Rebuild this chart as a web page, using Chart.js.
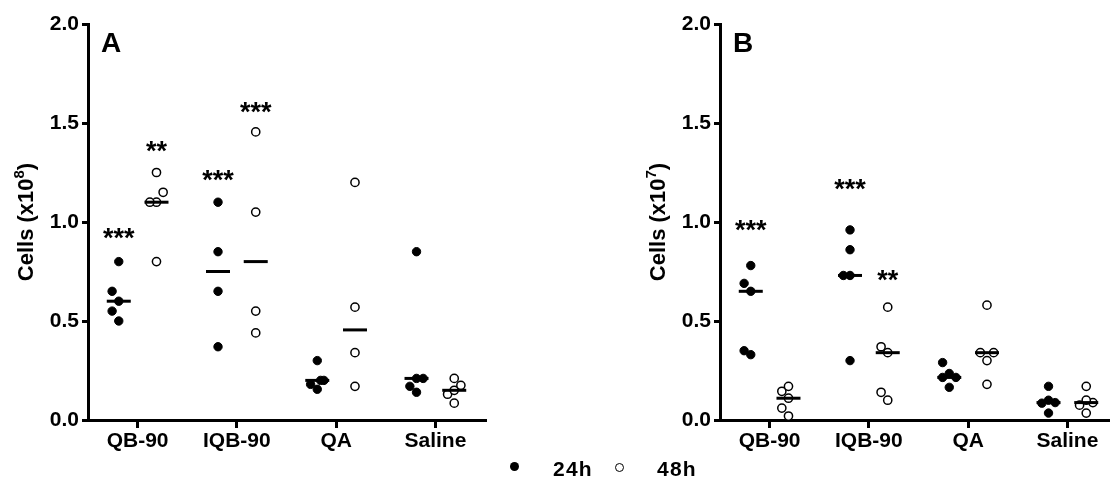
<!DOCTYPE html>
<html><head><meta charset="utf-8">
<script src="https://cdn.jsdelivr.net/npm/chart.js@4.4.1/dist/chart.umd.min.js"></script>
<style>
html,body{margin:0;padding:0;background:#fff;overflow:hidden;width:1110px;height:479px;position:relative;font-family:'Liberation Sans',Arial,sans-serif;}
.panel{position:absolute;top:0;height:479px;width:500px;}
.lg{position:absolute;font-weight:bold;font-size:21px;line-height:20px;letter-spacing:1.2px;color:#000;}
.sym{position:absolute;width:9px;height:9px;border-radius:50%;box-sizing:border-box;}
</style></head><body>
<div class="panel" style="left:0"><canvas id="cA"></canvas></div>
<div class="panel" style="left:632px"><canvas id="cB"></canvas></div>
<span class="sym" style="left:510px;top:462px;background:#000;"></span>
<span class="lg" style="left:553px;top:459px;">24h</span>
<span class="sym" style="left:615px;top:463px;border:1.6px solid #000;background:#fff;"></span>
<span class="lg" style="left:657px;top:459px;">48h</span>
<script>
const categories = ['QB-90', 'IQB-90', 'QA', 'Saline'];
const yTicks = [0, 0.5, 1.0, 1.5, 2.0];

const panelA_24h = [[0.80, 0.65, 0.60, 0.55, 0.50], [1.10, 0.85, 0.65, 0.37], [0.30, 0.20, 0.20, 0.18, 0.155], [0.85, 0.21, 0.21, 0.17, 0.14]];
const panelA_48h = [[1.25, 1.15, 1.10, 1.10, 0.80], [1.455, 1.05, 0.55, 0.44], [1.20, 0.57, 0.34, 0.17], [0.21, 0.175, 0.15, 0.13, 0.085]];
const panelB_24h = [[0.78, 0.69, 0.65, 0.35, 0.33], [0.96, 0.86, 0.73, 0.73, 0.30], [0.29, 0.235, 0.215, 0.215, 0.165], [0.17, 0.10, 0.088, 0.085, 0.035]];
const panelB_48h = [[0.17, 0.145, 0.11, 0.06, 0.02], [0.57, 0.37, 0.34, 0.14, 0.10], [0.58, 0.34, 0.34, 0.30, 0.18], [0.17, 0.10, 0.088, 0.075, 0.035]];

const sigA_24h = ['***', '***', '', ''];
const sigA_24hAt = [0.95, 1.24, null, null];
const sigA_48h = ['**', '***', '', ''];
const sigA_48hAt = [1.39, 1.585, null, null];
const sigB_24h = ['***', '***', '', ''];
const sigB_24hAt = [0.99, 1.195, null, null];
const sigB_48h = ['', '**', '', ''];
const sigB_48hAt = [null, 0.735, null, null];

const yTitleA = ['Cells (x10', '8', ')'];
const yTitleB = ['Cells (x10', '7', ')'];
const panelLetters = ['A', 'B'];
const legendLabels = ['24h', '48h'];

const FONT = "'Liberation Sans', Arial, sans-serif";
const OFF = 0.19;

function median(a) {
  const s = [...a].sort((p, q) => p - q);
  const n = s.length;
  return n % 2 ? s[(n - 1) / 2] : (s[n / 2 - 1] + s[n / 2]) / 2;
}
// simple swarm layout: spread points with nearly equal values sideways
function swarm(values, center) {
  const step = 0.067, thr = 0.055;
  const cands = [0, -step, step, step / 2, -step / 2, -2 * step, 2 * step];
  const placed = [];
  [...values].sort((p, q) => p - q).forEach(v => {
    for (const c of cands) {
      if (!placed.some(p => p.o === c && Math.abs(p.y - v) < thr)) { placed.push({ o: c, y: v }); break; }
    }
  });
  return placed.map(p => ({ x: center + p.o, y: p.y }));
}
function pts(groups, off) { return groups.flatMap((g, i) => swarm(g, i + 1 + off)); }
function meds(groups, off) { return groups.map((g, i) => ({ x: i + 1 + off, y: median(g) })); }

const annot = {
  id: 'annot',
  afterDatasetsDraw(chart, args, o) {
    const { ctx, chartArea, scales } = chart;
    ctx.save();
    ctx.fillStyle = '#000';
    // significance marks
    ctx.font = 'bold 27px ' + FONT;
    ctx.textAlign = 'center';
    ctx.textBaseline = 'alphabetic';
    const drawSig = (labels, at, off) => labels.forEach((t, i) => {
      if (!t || at[i] == null) return;
      ctx.fillText(t, scales.x.getPixelForValue(i + 1 + off), scales.y.getPixelForValue(at[i]) + 15);
    });
    drawSig(o.sig24, o.sig24At, -OFF);
    drawSig(o.sig48, o.sig48At, OFF);
    // panel letter
    ctx.font = 'bold 28px ' + FONT;
    ctx.textAlign = 'left';
    ctx.fillText(o.letter, chartArea.left + 13, 52);
    // y title with superscript
    ctx.translate(chartArea.left - 55, (chartArea.top + chartArea.bottom) / 2);
    ctx.rotate(-Math.PI / 2);
    const mf = 'bold 22px ' + FONT, sf = 'bold 15px ' + FONT;
    ctx.font = mf; const w1 = ctx.measureText(o.title[0]).width; const w3 = ctx.measureText(o.title[2]).width;
    ctx.font = sf; const w2 = ctx.measureText(o.title[1]).width;
    let x0 = -(w1 + w2 + w3) / 2;
    ctx.font = mf; ctx.fillText(o.title[0], x0, 0);
    ctx.font = sf; ctx.fillText(o.title[1], x0 + w1, -9);
    ctx.font = mf; ctx.fillText(o.title[2], x0 + w1 + w2, 0);
    ctx.restore();
  }
};

function makeChart(id, d24, d48, opts) {
  const tickFont = { family: FONT, size: 21, weight: 'bold' };
  return new Chart(document.getElementById(id), {
    type: 'scatter',
    data: {
      datasets: [
        { label: legendLabels[0] + ' median', data: meds(d24, -OFF), pointStyle: 'line', pointRadius: 12, pointHoverRadius: 12, borderColor: '#000', borderWidth: 3, order: 0 },
        { label: legendLabels[1] + ' median', data: meds(d48, OFF), pointStyle: 'line', pointRadius: 12, pointHoverRadius: 12, borderColor: '#000', borderWidth: 3, order: 0 },
        { label: legendLabels[0], data: pts(d24, -OFF), pointRadius: 4.2, backgroundColor: '#000', borderColor: '#000', borderWidth: 1, order: 1 },
        { label: legendLabels[1], data: pts(d48, OFF), pointRadius: 4.1, backgroundColor: '#fff', borderColor: '#000', borderWidth: 1.5, order: 1 }
      ]
    },
    options: {
      responsive: true, maintainAspectRatio: false, animation: false, events: [],
      layout: { padding: { top: 24, right: 12, left: 0, bottom: 0 } },
      plugins: { legend: { display: false }, tooltip: { enabled: false }, annot: opts },
      scales: {
        x: {
          type: 'linear', min: 0.5, max: 4.5,
          afterBuildTicks: s => { s.ticks = categories.map((c, i) => ({ value: i + 1 })); },
          afterFit: s => { s.height = 59; },
          ticks: { callback: v => categories[v - 1] ?? '', color: '#000', font: tickFont, padding: 1, maxRotation: 0, autoSkip: false },
          grid: { display: true, drawOnChartArea: false, drawTicks: true, tickLength: 8, color: '#000', lineWidth: 3 },
          border: { display: true, color: '#000', width: 3 }
        },
        y: {
          min: 0, max: 2,
          afterBuildTicks: s => { s.ticks = yTicks.map(v => ({ value: v })); },
          afterFit: s => { s.width = 88; },
          ticks: { callback: v => v.toFixed(1), color: '#000', font: tickFont, padding: 3 },
          grid: { display: true, drawOnChartArea: false, drawTicks: true, tickLength: 6, color: '#000', lineWidth: 3 },
          border: { display: true, color: '#000', width: 3 }
        }
      }
    },
    plugins: [annot]
  });
}

makeChart('cA', panelA_24h, panelA_48h, { sig24: sigA_24h, sig24At: sigA_24hAt, sig48: sigA_48h, sig48At: sigA_48hAt, letter: panelLetters[0], title: yTitleA });
makeChart('cB', panelB_24h, panelB_48h, { sig24: sigB_24h, sig24At: sigB_24hAt, sig48: sigB_48h, sig48At: sigB_48hAt, letter: panelLetters[1], title: yTitleB });
</script>
</body></html>
